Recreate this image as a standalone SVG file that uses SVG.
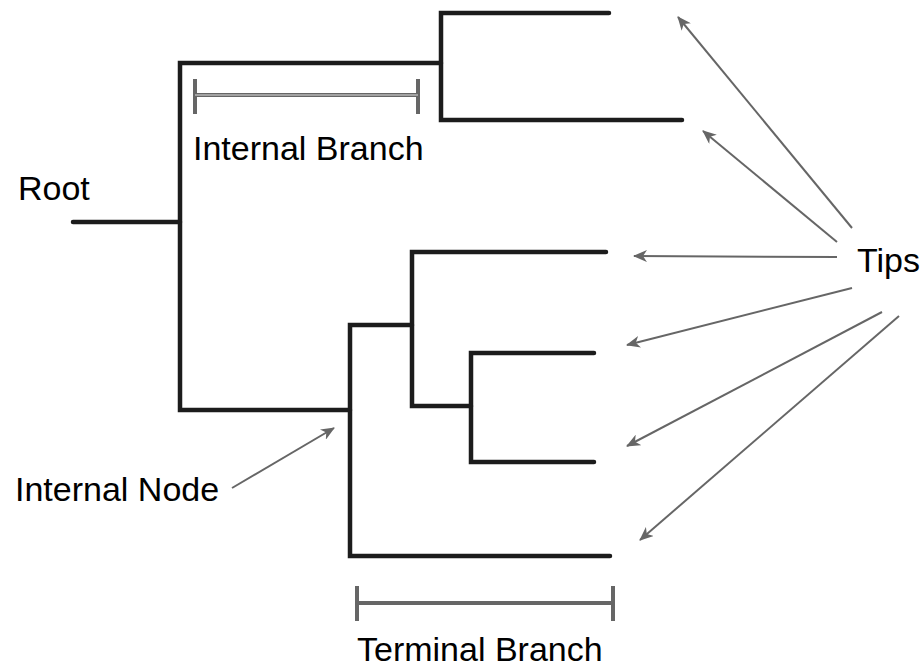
<svg xmlns="http://www.w3.org/2000/svg" width="922" height="670" viewBox="0 0 922 670">
<style>
.br{fill:none;stroke:#1c1c1c;stroke-width:4.5;stroke-linecap:round;stroke-linejoin:miter}
.sc{fill:none;stroke:#666;stroke-width:4;stroke-linecap:butt}
.ar{fill:none;stroke:#666;stroke-width:2;marker-end:url(#ah)}
.lb{font-family:"Liberation Sans",Arial,sans-serif;font-size:34px;fill:#000}
</style>
<defs>
<marker id="ah" viewBox="0 0 14 12" refX="13" refY="6" markerWidth="14" markerHeight="12" markerUnits="userSpaceOnUse" orient="auto">
<path d="M0,0 L14,6 L0,12 L4,6 z" fill="#666"/>
</marker>
</defs>
<rect width="922" height="670" fill="#fff"/>
<g id="tree">
<path class="br" d="M73,222 H180"/>
<path class="br" d="M180,222 V63 H441 M180,222 V410 H350"/>
<path class="br" d="M609,13 H441 V120 H682"/>
<path class="br" d="M350,410 V325 H412 M350,410 V556 H610"/>
<path class="br" d="M606,252 H412 V406 H471"/>
<path class="br" d="M594,353 H471 V462 H594"/>
</g>
<g id="internal-branch-scale">
<path class="sc" d="M195,79 V114 M418,79 V114 M195,95 H418"/>
<path d="M195,95 H418" stroke="#ddd" stroke-width="1.2"/>
</g>
<g id="terminal-branch-scale">
<path class="sc" d="M357,586 V621 M613,586 V621 M357,603 H613"/>
</g>
<g id="connectors">
<line class="ar" x1="232" y1="488" x2="334" y2="428"/>
<line class="ar" x1="852" y1="228" x2="678" y2="17"/>
<line class="ar" x1="837" y1="242" x2="703" y2="131"/>
<line class="ar" x1="837" y1="257" x2="634" y2="256"/>
<line class="ar" x1="852" y1="288" x2="627" y2="345"/>
<line class="ar" x1="882" y1="312" x2="627" y2="446"/>
<line class="ar" x1="899" y1="316" x2="640" y2="540"/>
</g>
<g id="label-root"><text class="lb" x="18" y="200">Root</text></g>
<g id="label-internal-branch"><text class="lb" x="193" y="160">Internal Branch</text></g>
<g id="label-tips"><text class="lb" x="857" y="272">Tips</text></g>
<g id="label-internal-node"><text class="lb" x="15" y="501">Internal Node</text></g>
<g id="label-terminal-branch"><text class="lb" x="357" y="661">Terminal Branch</text></g>
</svg>
